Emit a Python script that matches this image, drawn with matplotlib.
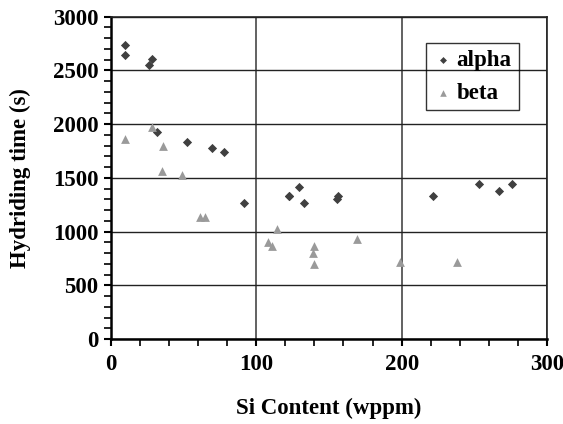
import matplotlib
matplotlib.use("Agg")
import matplotlib.pyplot as plt
from matplotlib.ticker import MultipleLocator

alpha_x = [9.6, 9.6, 26.4, 28.0, 31.9, 52.5, 69.3, 77.6, 91.4, 122.6, 122.8,
           129.5, 132.7, 156.1, 155.4, 221.8, 253.2, 267.0, 276.2]
alpha_y = [2736, 2646, 2546, 2602, 1929, 1835, 1777, 1742, 1270, 1329, 1332,
           1413, 1270, 1332, 1301, 1332, 1444, 1382, 1444]

beta_x = [9.6, 28.0, 35.6, 34.9, 48.7, 61.3, 64.7, 108.3, 110.7, 114.5,
          139.8, 138.9, 139.8, 169.2, 199.0, 238.0]
beta_y = [1860, 1970, 1800, 1560, 1530, 1140, 1140, 900, 870, 1025,
          870, 805, 695, 930, 720, 720]

plt.rcParams['font.family'] = ['Liberation Serif', 'DejaVu Serif']
plt.rcParams['font.weight'] = 'bold'

fig = plt.figure(figsize=(5.63, 4.24), dpi=100)
ax = fig.add_axes([0.197, 0.2005, 0.7746, 0.7601])

ax.scatter(alpha_x, alpha_y, marker='D', s=22, color='#404040', label='alpha', zorder=3, linewidths=0)
ax.scatter(beta_x, beta_y, marker='^', s=40, color='#9a9a9a', label='beta', zorder=3, linewidths=0)

ax.set_xlim(0, 300)
ax.set_ylim(0, 3000)
ax.xaxis.set_major_locator(MultipleLocator(100))
ax.xaxis.set_minor_locator(MultipleLocator(20))
ax.yaxis.set_major_locator(MultipleLocator(500))
ax.yaxis.set_minor_locator(MultipleLocator(100))

ax.grid(True, which='major', axis='y', color='#222222', linewidth=1.0)
ax.grid(True, which='major', axis='x', color='#555555', linewidth=1.3)
ax.set_axisbelow(True)

for s in ['left', 'bottom']:
    ax.spines[s].set_linewidth(1.8)
    ax.spines[s].set_color('black')
for s in ['top', 'right']:
    ax.spines[s].set_linewidth(1.2)
    ax.spines[s].set_color('#222222')

ax.tick_params(axis='both', which='major', direction='out', length=5, width=1.5,
               labelsize=16.5, pad=4)
ax.tick_params(axis='x', which='major', pad=6)
ax.tick_params(axis='both', which='minor', direction='out', length=5, width=1.2)
for lbl in ax.get_xticklabels() + ax.get_yticklabels():
    lbl.set_fontweight('bold')

ax.set_xlabel('Si Content (wppm)', fontsize=16.5, fontweight='bold', labelpad=16)
ax.set_ylabel('Hydriding time (s)', fontsize=16.5, fontweight='bold', labelpad=16)

leg = ax.legend(loc='upper left', bbox_to_anchor=(0.722, 0.918), borderaxespad=0,
                frameon=True, fancybox=False, facecolor='none', edgecolor='black',
                framealpha=None, prop={'size': 16.5, 'weight': 'bold'},
                handletextpad=0.15, borderpad=0.3, labelspacing=0.5,
                handlelength=0.9, markerscale=0.75)
leg.get_frame().set_linewidth(1.0)

fig.savefig('out.png', dpi=100)
